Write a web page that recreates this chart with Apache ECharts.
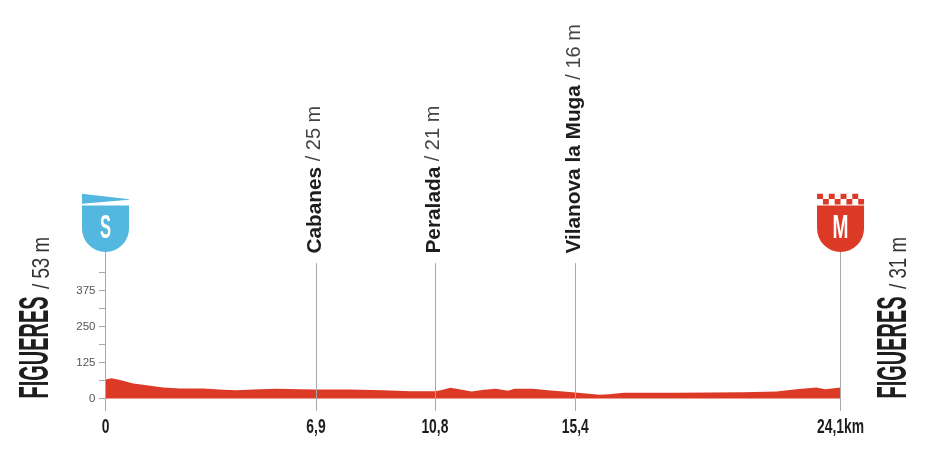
<!DOCTYPE html>
<html><head><meta charset="utf-8">
<style>html,body{margin:0;padding:0;background:#fff}#c{width:926px;height:455px}</style>
<script src="https://cdn.jsdelivr.net/npm/echarts@6/dist/echarts.min.js"></script>
</head><body><div id="c"></div>
<script>
// [km, elevation m]
const profileKm = [0,0.2,0.48,0.91,1.35,1.89,2.45,3.2,3.87,4.3,4.85,5.6,6.4,6.9,8.0,9.1,10,10.8,11.0,11.3,11.6,12,12.4,12.8,13.2,13.4,14,14.6,15.4,16.2,16.5,17,18.7,20.9,22,22.65,23.3,23.6,24.1];
const profileM  = [66,70,64,52,46,38,35,35,30,29,31,34,32,31,31,29,25,25,29,37,32,24,30,34,27,34,34,28,21,13,15,20,20,22,24,32,38,32,38];
const stopKm = [0,6.9,10.8,15.4,24.1];
const stopTickLabels = ['0','6,9','10,8','15,4','24,1km'];
const placeKm = [6.9,10.8,15.4];
const placeNames = ['Cabanes','Peralada','Vilanova la Muga'];
const placeHeights = ['25 m','21 m','16 m'];
const yLabelValues = [0,125,250,375];
const yTickValues = [0,62.5,125,187.5,250,312.5,375,437.5];
const startName='FIGUERES', startHeight='/ 53 m', finishHeight='/ 31 m';

const RED='#dc3a26', BLUE='#53b7e0', GREY='#a9a9a9', FONT='"Liberation Sans",Arial,sans-serif';
const TOP=508.7, FOOT=-43;
const chart = echarts.init(document.getElementById('c'),null,{renderer:'canvas'});

const shieldS='path://M0 0L47 5.5L47 6L0 10ZM0 11.7H47V34.8A23.5 23.5 0 0 1 0 34.8Z';
let checker='';
for(let i=0;i<4;i++){const a=i*11.75; checker+=`M${a} 0h5.9v5.4h-5.9zM${a+5.9} 5.4h5.85v5.4h-5.85z`;}
const shieldM='path://'+checker+'M0 11.7H47V34.8A23.5 23.5 0 0 1 0 34.8Z';

chart.setOption({
  animation:false,
  grid:{left:105.5,width:735.05,top:398.5-562.5*0.288,height:625*0.288,containLabel:false},
  xAxis:{type:'value',min:0,max:24.1,axisLine:{show:false},axisTick:{show:false},axisLabel:{show:false},splitLine:{show:false}},
  yAxis:{type:'value',min:-62.5,max:562.5,interval:62.5,
    axisLine:{show:false},splitLine:{show:false},
    axisTick:{show:true,length:6.5,inside:false,lineStyle:{color:GREY,width:1},customValues:yTickValues},
    axisLabel:{color:'#555',fontSize:11.5,fontFamily:'"Liberation Sans",Arial,sans-serif',margin:10,customValues:yLabelValues}},
  series:[
   {type:'line',data:profileKm.map((k,i)=>[k,profileM[i]]),symbol:'none',silent:true,z:2,
    lineStyle:{width:0},areaStyle:{color:RED,opacity:1,origin:0},clip:false,
    markLine:{silent:true,symbol:'none',z:5,animation:false,
      lineStyle:{color:GREY,width:1,type:'solid'},
      data:[
        [{coord:[0,FOOT]},{coord:[0,TOP]}],
        [{coord:[24.1,FOOT]},{coord:[24.1,TOP]}],
        ...placeKm.map(k=>[{coord:[k,FOOT]},{coord:[k,470]}])
      ],
      label:{show:false}},
    markPoint:{silent:true,z:6,animation:false,label:{show:false},
      data:[
        {coord:[0,TOP],symbol:shieldS,symbolSize:[47,58.3],symbolOffset:[0,'-50%'],itemStyle:{color:BLUE}},
        {coord:[24.1,TOP],symbol:shieldM,symbolSize:[47,58.3],symbolOffset:[0,'-50%'],itemStyle:{color:RED}}
      ]}
   }
  ]
});

const px=(k,v)=>chart.convertToPixel({gridIndex:0},[k,v]);
const els=[];
function txt(x,y,text,o){
  els.push({type:'text',x,y,rotation:o.rot?Math.PI/2:0,scaleX:o.sx||1,scaleY:o.sy||1,silent:true,z:10,
    style:{text,fill:o.fill||'#1d1d1b',font:`${o.w||'normal'} ${o.size}px ${FONT}`,align:o.align||'left',verticalAlign:'middle'}});
}
// distance labels
stopKm.forEach((k,i)=>{const p=px(k,0);txt(p[0],427.5,stopTickLabels[i],{size:21,w:'bold',sx:.66,align:'center'});});
// place labels
placeKm.forEach((k,i)=>{
  const p=px(k,0); const x=p[0]-1;
  txt(x,253.5,placeNames[i],{rot:1,size:20.8,w:'bold'});
  const nameW=(()=>{const c=document.createElement('canvas').getContext('2d');c.font=`bold 20.8px ${FONT}`;return c.measureText(placeNames[i]).width;})();
  txt(x,253.5-nameW-5.5,'/ '+placeHeights[i],{rot:1,size:20,fill:'#444'});
});
// start / finish names
[[36.5,startHeight],[894,finishHeight]].forEach(([x,h])=>{
  txt(x,398.5,startName,{rot:1,size:43,w:'bold',sx:.465});
  txt(x+5.5,289,h,{rot:1,size:24,sx:.78,fill:'#333'});
});
// shield letters
txt(px(0,0)[0],229,'S',{size:33,w:'bold',sx:.5,align:'center',fill:'#fff'});
txt(px(24.1,0)[0],229,'M',{size:33,w:'bold',sx:.58,align:'center',fill:'#fff'});
chart.setOption({graphic:{elements:els}});
</script></body></html>
